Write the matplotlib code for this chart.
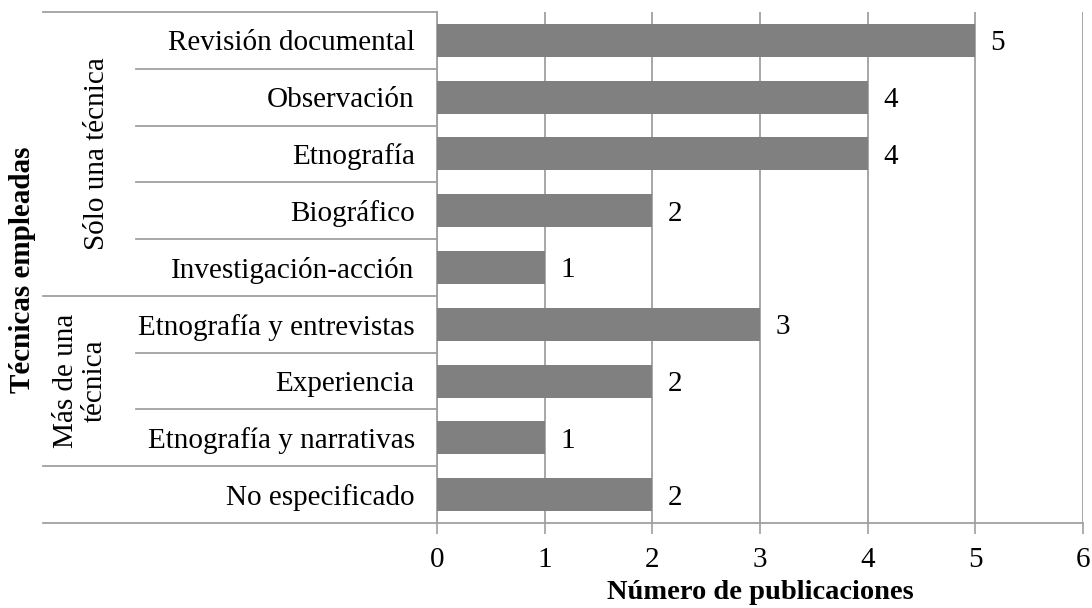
import matplotlib
matplotlib.use("Agg")
from matplotlib import pyplot as plt
import matplotlib.transforms as mtransforms

# data
tecnicas = ["Revisión documental", "Observación", "Etnografía", "Biográfico",
            "Investigación-acción", "Etnografía y entrevistas", "Experiencia",
            "Etnografía y narrativas", "No especificado"]
publicaciones = [5, 4, 4, 2, 1, 3, 2, 1, 2]
grupos = ["Sólo una técnica", "Más de una\ntécnica"]
grupo_rangos = [(0, 4), (5, 7)]  # first and last category index in each group

plt.rcParams["font.family"] = ["Liberation Serif", "DejaVu Serif"]
fs = 21
grey = "#808080"
line_grey = "#a0a0a0"

fig = plt.figure(figsize=(10.92, 6.08), dpi=100)
ax = fig.add_axes([0.4002, 0.1398, 0.5915, 0.8405])

ypos = list(range(len(tecnicas)))
bars = ax.barh(ypos, publicaciones, height=0.58, color=grey, zorder=3)
labels = ax.bar_label(bars, padding=11, fontsize=fs)
for t in labels:
    t.set_va("center_baseline")

ax.set_xlim(0, 6)
ax.set_ylim(len(tecnicas) - 0.5, -0.5)
ax.set_xticks(range(7))
ax.set_yticks(ypos)
ax.set_yticklabels(tecnicas)
ax.tick_params(axis="y", length=0, pad=16, labelsize=fs)
ax.tick_params(axis="x", length=8, width=1.2, color=line_grey, pad=9, labelsize=fs)
ax.grid(axis="x", color=line_grey, linewidth=1.3, zorder=0)
ax.set_axisbelow(True)

for side in ["top", "right"]:
    ax.spines[side].set_visible(False)
for side in ["left", "bottom"]:
    ax.spines[side].set_color(line_grey)
    ax.spines[side].set_linewidth(1.3)

ax.set_xlabel("Número de publicaciones", fontsize=20.5, fontweight="bold", labelpad=5)

# category separators in the label area
trans = mtransforms.blended_transform_factory(ax.transAxes, ax.transData)
x_long = -0.610
x_short = -0.466
starts_long = {-0.5, 4.5, 7.5, 8.5}
for i in range(len(tecnicas) + 1):
    b = i - 0.5
    x0 = x_long if b in starts_long else x_short
    ax.plot([x0, 0], [b, b], transform=trans, color=line_grey, linewidth=1.3,
            clip_on=False, zorder=1)

# group labels
for name, (a, b), gx in zip(grupos, grupo_rangos, [-0.526, -0.552]):
    ax.text(gx, (a + b) / 2, name, transform=trans, rotation=90,
            ha="center", va="center", fontsize=fs, multialignment="center",
            linespacing=1.15)

ax.text(-0.641, 0.495, "Técnicas empleadas", transform=ax.transAxes, rotation=90,
        ha="center", va="center", fontsize=fs, fontweight="bold")

fig.savefig("out.png", dpi=100)
